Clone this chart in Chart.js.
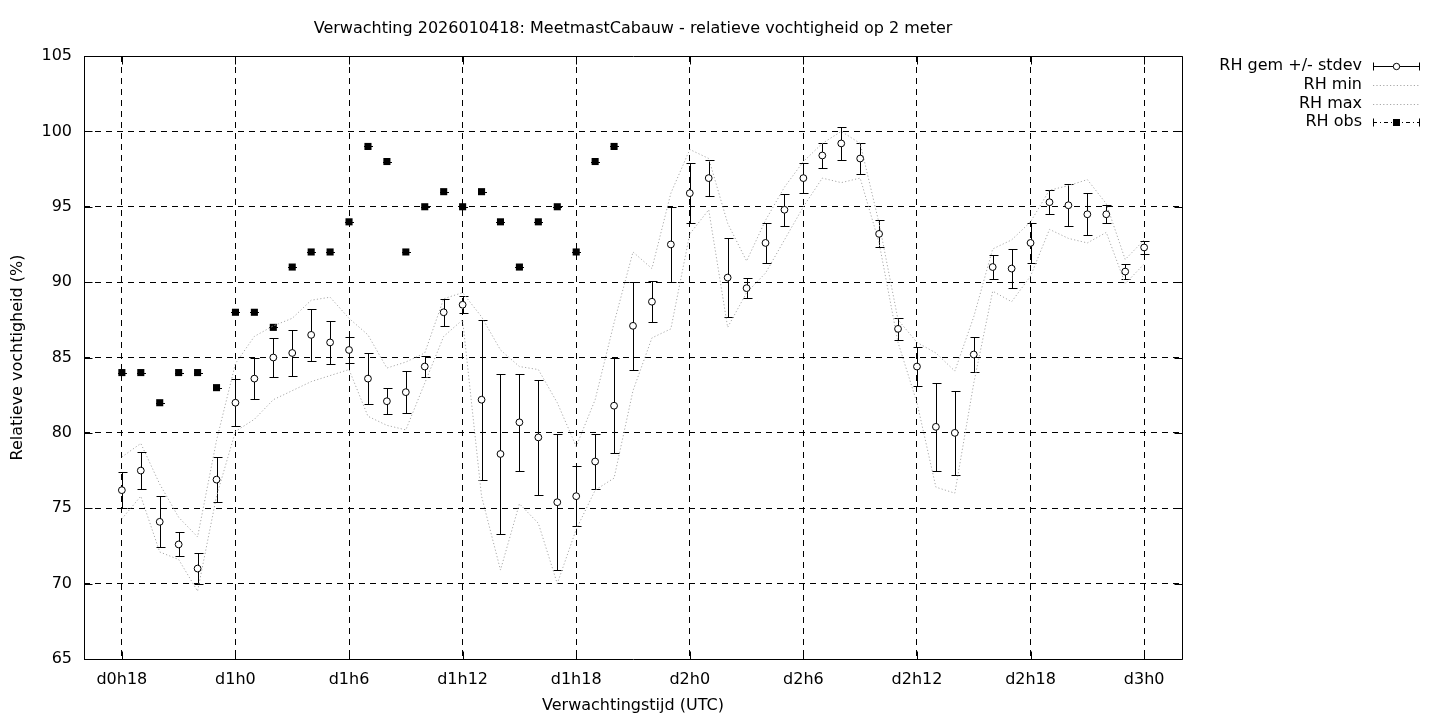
<!DOCTYPE html>
<html>
<head>
<meta charset="utf-8">
<script src="https://cdn.jsdelivr.net/npm/chart.js@4.4.1/dist/chart.umd.min.js"></script>
<style>
html,body{margin:0;padding:0;background:#fff;}
#wrap{width:1440px;height:720px;position:relative;}
</style>
</head>
<body>
<div id="wrap"><canvas id="c" width="1440" height="720"></canvas></div>
<script>
// ---- data (hours since d0h0) ----
const hours = [18,19,20,21,22,23,24,25,26,27,28,29,30,31,32,33,34,35,36,37,38,39,40,41,42,43,44,45,46,47,48,49,50,51,52,53,54,55,56,57,58,59,60,61,62,63,64,65,66,67,68,69,70,71,72];
const rhMean = [76.2,77.5,74.1,72.6,71.0,76.9,82.0,83.6,85.0,85.3,86.5,86.0,85.5,83.6,82.1,82.7,84.4,88.0,88.5,82.2,78.6,80.7,79.7,75.4,75.8,78.1,81.8,87.1,88.7,92.5,95.9,96.9,90.3,89.6,92.6,94.8,96.9,98.4,99.2,98.2,93.2,86.9,84.4,80.4,80.0,85.2,91.0,90.9,92.6,95.3,95.1,94.5,94.5,90.7,92.3];
const rhStdev = [1.2,1.2,1.7,0.8,1.0,1.5,1.55,1.35,1.3,1.5,1.75,1.45,0.85,1.7,0.85,1.4,0.7,0.9,0.55,5.3,5.3,3.2,3.8,4.5,2.0,1.8,3.15,2.9,1.35,2.5,2.0,1.2,2.6,0.65,1.35,1.05,1.0,0.8,1.1,1.05,0.9,0.75,1.3,2.9,2.8,1.15,0.8,1.3,1.35,0.8,1.4,1.4,0.6,0.5,0.45];
const rhMin = [74.3,75.8,72.1,71.6,69.5,75.8,80.1,80.9,82.2,82.8,83.4,83.8,84.2,81.1,80.5,80.2,83.3,86.4,87.5,75.8,70.9,75.3,74.0,70.0,73.6,76.2,77.0,82.8,86.3,86.9,93.2,94.8,87.0,89.3,90.6,92.8,95.0,96.9,96.6,96.9,92.6,86.0,82.0,76.4,76.0,83.3,89.4,88.7,90.4,93.5,92.9,92.6,93.3,89.9,91.2];
const rhMax = [78.4,79.3,76.6,74.4,73.1,79.5,84.6,86.4,87.1,87.6,88.8,89.0,87.6,86.5,84.3,84.7,85.3,88.9,89.3,87.7,85.5,84.4,84.2,82.0,79.1,82.2,87.3,92.0,90.9,95.9,98.8,98.2,93.9,91.4,94.1,96.3,98.0,99.2,100.0,99.2,93.9,87.5,86.0,85.3,84.1,87.7,92.2,92.8,94.0,96.1,96.4,96.8,95.2,91.5,92.8];
const obsHours = [18,19,20,21,22,23,24,25,26,27,28,29,30,31,32,33,34,35,36,37,38,39,40,41,42,43,44];
const rhObs = [84,84,82,84,84,83,88,88,87,91,92,92,94,99,98,92,95,96,95,96,94,91,94,95,92,98,99];
const tickHours = [18,24,30,36,42,48,54,60,66,72];
const tickLabels = ['d0h18','d1h0','d1h6','d1h12','d1h18','d2h0','d2h6','d2h12','d2h18','d3h0'];
const yTicks = [65,70,75,80,85,90,95,100,105];
const titleText = 'Verwachting 2026010418: MeetmastCabauw - relatieve vochtigheid op 2 meter';
const xTitle = 'Verwachtingstijd (UTC)';
const yTitle = 'Relatieve vochtigheid (%)';
const legendLabels = ['RH gem +/- stdev','RH min','RH max','RH obs'];

const FONT = '"DejaVu Sans", sans-serif';
const FS = 16;
Chart.defaults.font.family = FONT;
Chart.defaults.font.size = FS;
Chart.defaults.color = '#000';

const toXY = (xs, ys) => xs.map((x, i) => ({x: x, y: ys[i]}));
const GRAY = '#a8a8a8';

const errorBarPlugin = {
  id: 'errbars',
  beforeDatasetsDraw(chart) {
    const {ctx, scales: {x, y}} = chart;
    ctx.save();
    ctx.strokeStyle = '#000';
    ctx.lineWidth = 1;
    ctx.beginPath();
    hours.forEach((h, i) => {
      const px = Math.round(x.getPixelForValue(h)) + 0.5;
      const lo = Math.round(y.getPixelForValue(rhMean[i] - rhStdev[i])) + 0.5;
      const hi = Math.round(y.getPixelForValue(rhMean[i] + rhStdev[i])) + 0.5;
      ctx.moveTo(px, lo); ctx.lineTo(px, hi);
      ctx.moveTo(px - 4, lo); ctx.lineTo(px + 5, lo);
      ctx.moveTo(px - 4, hi); ctx.lineTo(px + 5, hi);
    });
    obsHours.forEach((h, i) => {
      const px = Math.round(x.getPixelForValue(h)) + 0.5;
      const py = Math.round(y.getPixelForValue(rhObs[i])) + 0.5;
      ctx.moveTo(px - 4.5, py); ctx.lineTo(px + 4.5, py);
    });
    ctx.stroke();
    ctx.restore();
  }
};

const decoPlugin = {
  id: 'deco',
  afterDraw(chart) {
    const {ctx, chartArea: a, scales: {x, y}} = chart;
    ctx.save();
    ctx.strokeStyle = '#000';
    ctx.lineWidth = 1;
    const L = Math.round(a.left) + 0.5, R = Math.round(a.right) + 0.5;
    const T = Math.round(a.top) + 0.5, B = Math.round(a.bottom) + 0.5;
    ctx.beginPath();
    ctx.rect(L, T, R - L, B - T);
    const tl = 8;
    tickHours.forEach(h => {
      const px = Math.round(x.getPixelForValue(h)) + 0.5;
      ctx.moveTo(px, B); ctx.lineTo(px, B - tl);
      ctx.moveTo(px, T); ctx.lineTo(px, T + tl);
    });
    yTicks.forEach(v => {
      const py = Math.round(y.getPixelForValue(v)) + 0.5;
      ctx.moveTo(L, py); ctx.lineTo(L + tl, py);
      ctx.moveTo(R, py); ctx.lineTo(R - tl, py);
    });
    ctx.stroke();

    // titles
    ctx.fillStyle = '#000';
    ctx.font = FS + 'px ' + FONT;
    ctx.textAlign = 'center';
    ctx.textBaseline = 'middle';
    ctx.fillText(titleText, (a.left + a.right) / 2, 29);
    ctx.fillText(xTitle, (a.left + a.right) / 2, 706);
    ctx.save();
    ctx.translate(18, (a.top + a.bottom) / 2);
    ctx.rotate(-Math.PI / 2);
    ctx.fillText(yTitle, 0, 0);
    ctx.restore();

    // legend
    const tx = 1362, sx0 = 1373, sx1 = 1420;
    const ly = [66, 85, 104, 122];
    ctx.textAlign = 'right';
    legendLabels.forEach((t, i) => ctx.fillText(t, tx, ly[i]));
    let yy = ly[0] + 0.5;
    ctx.beginPath();
    ctx.moveTo(sx0, yy); ctx.lineTo(sx1, yy);
    ctx.moveTo(sx0 + 0.5, yy - 4); ctx.lineTo(sx0 + 0.5, yy + 4);
    ctx.moveTo(sx1 - 0.5, yy - 4); ctx.lineTo(sx1 - 0.5, yy + 4);
    ctx.stroke();
    ctx.beginPath();
    ctx.arc((sx0 + sx1) / 2, yy, 3.2, 0, Math.PI * 2);
    ctx.fillStyle = '#fff'; ctx.fill(); ctx.stroke();
    ctx.strokeStyle = GRAY;
    ctx.setLineDash([1.2, 2.2]);
    [1, 2].forEach(i => {
      ctx.beginPath();
      ctx.moveTo(sx0, ly[i] + 0.5); ctx.lineTo(sx1, ly[i] + 0.5);
      ctx.stroke();
    });
    ctx.strokeStyle = '#000';
    yy = ly[3] + 0.5;
    ctx.setLineDash([4, 3, 1, 3]);
    ctx.beginPath();
    ctx.moveTo(sx0, yy); ctx.lineTo(sx1, yy);
    ctx.stroke();
    ctx.setLineDash([]);
    ctx.beginPath();
    ctx.moveTo(sx0 + 0.5, yy - 4); ctx.lineTo(sx0 + 0.5, yy + 4);
    ctx.moveTo(sx1 - 0.5, yy - 4); ctx.lineTo(sx1 - 0.5, yy + 4);
    ctx.stroke();
    ctx.fillStyle = '#000';
    ctx.fillRect((sx0 + sx1) / 2 - 3.5, yy - 3.5, 7, 7);
    ctx.restore();
  }
};

new Chart(document.getElementById('c').getContext('2d'), {
  type: 'scatter',
  data: {
    datasets: [
      {label: legendLabels[0], data: toXY(hours, rhMean), showLine: false,
       pointRadius: 3.4, pointBackgroundColor: '#fff', pointBorderColor: '#000', pointBorderWidth: 1},
      {label: legendLabels[1], type: 'line', data: toXY(hours, rhMin), borderColor: GRAY,
       borderWidth: 1, borderDash: [1.2, 2.2], pointRadius: 0, tension: 0, fill: false},
      {label: legendLabels[2], type: 'line', data: toXY(hours, rhMax), borderColor: GRAY,
       borderWidth: 1, borderDash: [1.2, 2.2], pointRadius: 0, tension: 0, fill: false},
      {label: legendLabels[3], data: toXY(obsHours, rhObs), showLine: false, pointStyle: 'rect',
       pointRadius: 5, pointBackgroundColor: '#000', pointBorderColor: '#000', pointBorderWidth: 0}
    ]
  },
  options: {
    responsive: false,
    animation: false,
    events: [],
    layout: {padding: {left: 0, right: 258, top: 56, bottom: 0}},
    plugins: {legend: {display: false}, title: {display: false}, tooltip: {enabled: false}},
    scales: {
      x: {
        type: 'linear', min: 16, max: 74,
        afterBuildTicks: s => { s.ticks = tickHours.map(v => ({value: v})); },
        afterFit: s => { s.height = 61; },
        ticks: {callback: v => tickLabels[tickHours.indexOf(v)], padding: 11, maxRotation: 0, autoSkip: false,
                font: {size: FS}, color: '#000'},
        grid: {color: '#000', lineWidth: 1, drawTicks: false},
        border: {display: false, dash: [6, 5]}
      },
      y: {
        min: 65, max: 105,
        afterBuildTicks: s => { s.ticks = yTicks.map(v => ({value: v})); },
        afterFit: s => { s.width = 84; },
        ticks: {padding: 12, font: {size: FS}, color: '#000'},
        grid: {color: '#000', lineWidth: 1, drawTicks: false},
        border: {display: false, dash: [6, 5]}
      }
    }
  },
  plugins: [errorBarPlugin, decoPlugin]
});
</script>
</body>
</html>
